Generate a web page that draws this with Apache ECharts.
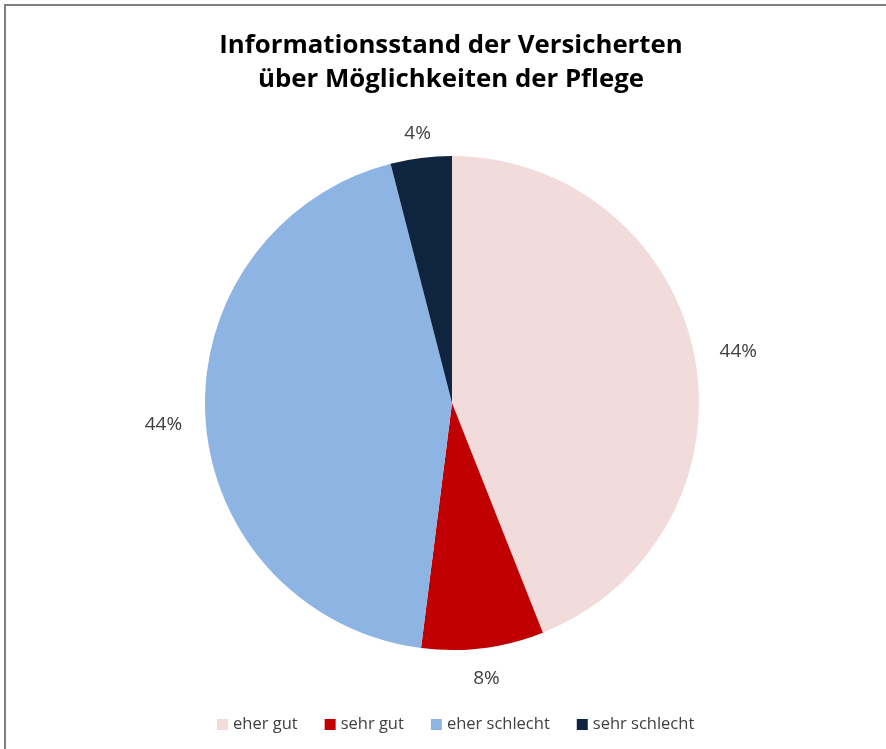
<!DOCTYPE html>
<html>
<head>
<meta charset="utf-8">
<script src="https://cdn.jsdelivr.net/npm/echarts@6/dist/echarts.min.js"></script>
<style>
  html, body { margin: 0; padding: 0; background: #fff; }
  #chart { width: 886px; height: 749px; }
</style>
</head>
<body>
<div id="chart"></div>
<script>
// Daten
var categories = ['eher gut', 'sehr gut', 'eher schlecht', 'sehr schlecht'];
var values = [44, 8, 44, 4];
var colors = ['#F2DCDB', '#C00000', '#8DB4E2', '#0F243E'];

var cx = 452, cy = 403, R = 247;
var total = values.reduce(function (a, b) { return a + b; }, 0);

var chart = echarts.init(document.getElementById('chart'));

// Label ausserhalb des Kreises, Abstand wie in Excel
function placeLabel(params) {
    var i = params.dataIndex;
    var before = 0;
    for (var k = 0; k < i; k++) before += values[k];
    var mid = (before + values[i] / 2) / total * Math.PI * 2;
    var ux = Math.sin(mid), uy = -Math.cos(mid);
    var hw = params.labelRect.width / 2, hh = params.labelRect.height / 2;
    var d = R + 22 * Math.abs(ux) + 14 * Math.abs(uy) + hw * Math.abs(ux) + hh * Math.abs(uy);
    return {
        x: cx + ux * d,
        y: cy + uy * d + 3,
        align: 'center',
        verticalAlign: 'middle'
    };
}

var option = {
    backgroundColor: '#fff',
    title: {
        text: 'Informationsstand der Versicherten\nüber Möglichkeiten der Pflege',
        left: 446,
        textAlign: 'center',
        top: 24,
        textStyle: {
            fontFamily: 'Open Sans',
            fontWeight: 'bold',
            fontSize: 25.8,
            color: '#000',
            lineHeight: 34
        }
    },
    legend: {
        bottom: 11,
        left: 212,
        itemWidth: 11,
        itemHeight: 11,
        itemGap: 27,
        icon: 'rect',
        textStyle: {
            fontFamily: 'Open Sans',
            fontSize: 16.5,
            color: '#404040'
        },
        data: categories
    },
    graphic: [{
        type: 'rect',
        shape: { x: 5, y: 5, width: 1000, height: 1000 },
        style: { fill: 'none', stroke: '#808080', lineWidth: 2 },
        silent: true
    }],
    series: [{
        type: 'pie',
        center: [cx, cy],
        radius: R,
        startAngle: 90,
        clockwise: true,
        animation: false,
        itemStyle: { borderWidth: 0 },
        label: {
            show: true,
            position: 'outside',
            formatter: '{d}%',
            fontFamily: 'Open Sans',
            fontSize: 19,
            color: '#404040'
        },
        labelLine: { show: false },
        labelLayout: placeLabel,
        emphasis: { disabled: true },
        data: categories.map(function (c, i) {
            return { name: c, value: values[i], itemStyle: { color: colors[i] } };
        })
    }]
};

chart.setOption(option);
</script>
</body>
</html>
